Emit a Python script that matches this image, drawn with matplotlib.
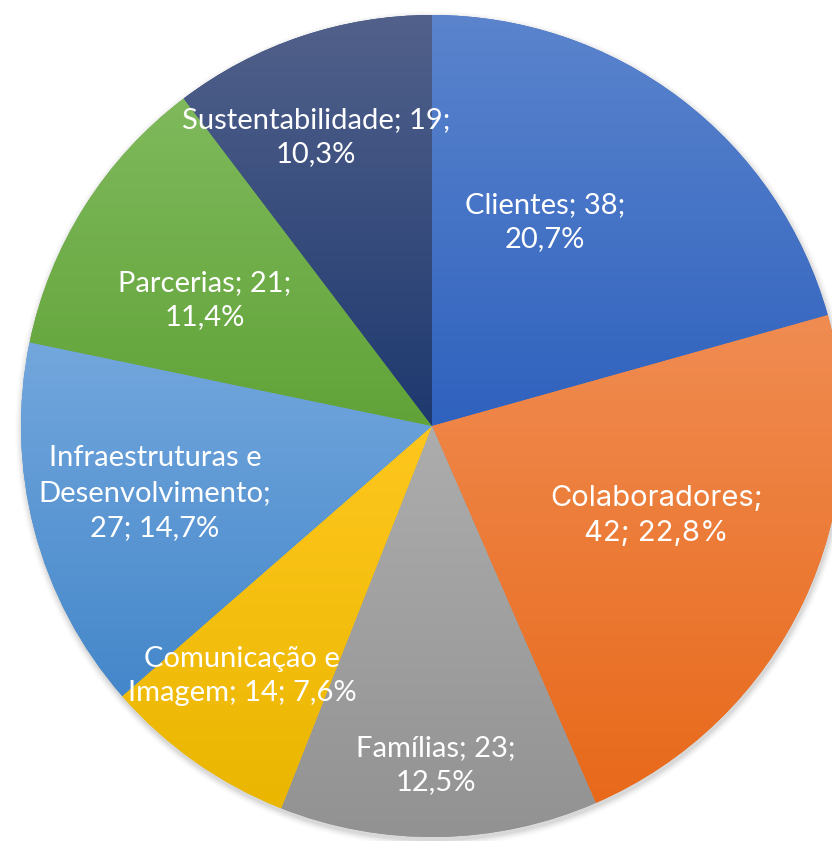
import numpy as np
import matplotlib.pyplot as plt
from matplotlib.colors import LinearSegmentedColormap

# data
categories = ['Clientes', 'Colaboradores', 'Famílias', 'Comunicação e Imagem',
              'Infraestruturas e Desenvolvimento', 'Parcerias', 'Sustentabilidade']
values = [38, 42, 23, 14, 27, 21, 19]

# styles: gradient top / bottom colour per slice
top_colors = ['#5B84CD', '#F08C52', '#ADADAD', '#FFC71E', '#73A7DD', '#7FB95C', '#52618B']
bottom_colors = ['#2F62BE', '#E8691A', '#929292', '#EAB600', '#4487CA', '#61A338', '#1E396F']

# label layout (line break templates and placement in pixels)
label_fmt = ['{c}; {v};\n{p}', '{c};\n{v}; {p}', '{c}; {v};\n{p}', 'Comunicação e\nImagem; {v}; {p}',
             'Infraestruturas e\nDesenvolvimento;\n{v}; {p}', '{c}; {v};\n{p}', '{c}; {v};\n{p}']
label_xy = [(545, 222), (656, 516), (436, 765), (242, 676), (155, 493), (205, 300), (316, 137)]

W, H = 832, 841
cx, cy, R = 432, 426, 411

fig = plt.figure(figsize=(W / 100, H / 100), dpi=100)
ax = fig.add_axes([0, 0, 1, 1])

# soft shadow under the pie
for i, a in enumerate(np.linspace(0.04, 0.01, 6)):
    ax.add_patch(plt.Circle((cx + 1, H - cy - 3), R + 1 + i * 1.2, color='black',
                            alpha=a, lw=0, zorder=0))

wedges, _ = ax.pie(values, center=(cx, H - cy), radius=R, startangle=90,
                   counterclock=False, colors=bottom_colors,
                   wedgeprops=dict(linewidth=0), frame=True)

grad = np.linspace(0, 1, 256).reshape(-1, 1)
for w, ct, cb in zip(wedges, top_colors, bottom_colors):
    bb = w.get_path().get_extents(w.get_transform())
    inv = ax.transData.inverted()
    (x0, y0), (x1, y1) = inv.transform([[bb.x0, bb.y0], [bb.x1, bb.y1]])
    cmap = LinearSegmentedColormap.from_list('g', [cb, ct])
    im = ax.imshow(grad, cmap=cmap, extent=[x0, x1, y0, y1], origin='lower',
                   aspect='auto', zorder=2, interpolation='bilinear')
    im.set_clip_path(w)

total = sum(values)
for c, v, fmt, (lx, ly) in zip(categories, values, label_fmt, label_xy):
    p = f'{v / total * 100:.1f}%'.replace('.', ',')
    family = 'Inter' if c == 'Colaboradores' else 'Lato'
    ax.text(lx, H - ly, fmt.format(c=c, v=v, p=p), ha='center', va='center',
            color='white', fontsize=21, family=family, linespacing=1.42, zorder=5)

ax.set_xlim(0, W)
ax.set_ylim(0, H)
ax.set_aspect('equal')
ax.axis('off')

plt.savefig('out.png', dpi=100)
